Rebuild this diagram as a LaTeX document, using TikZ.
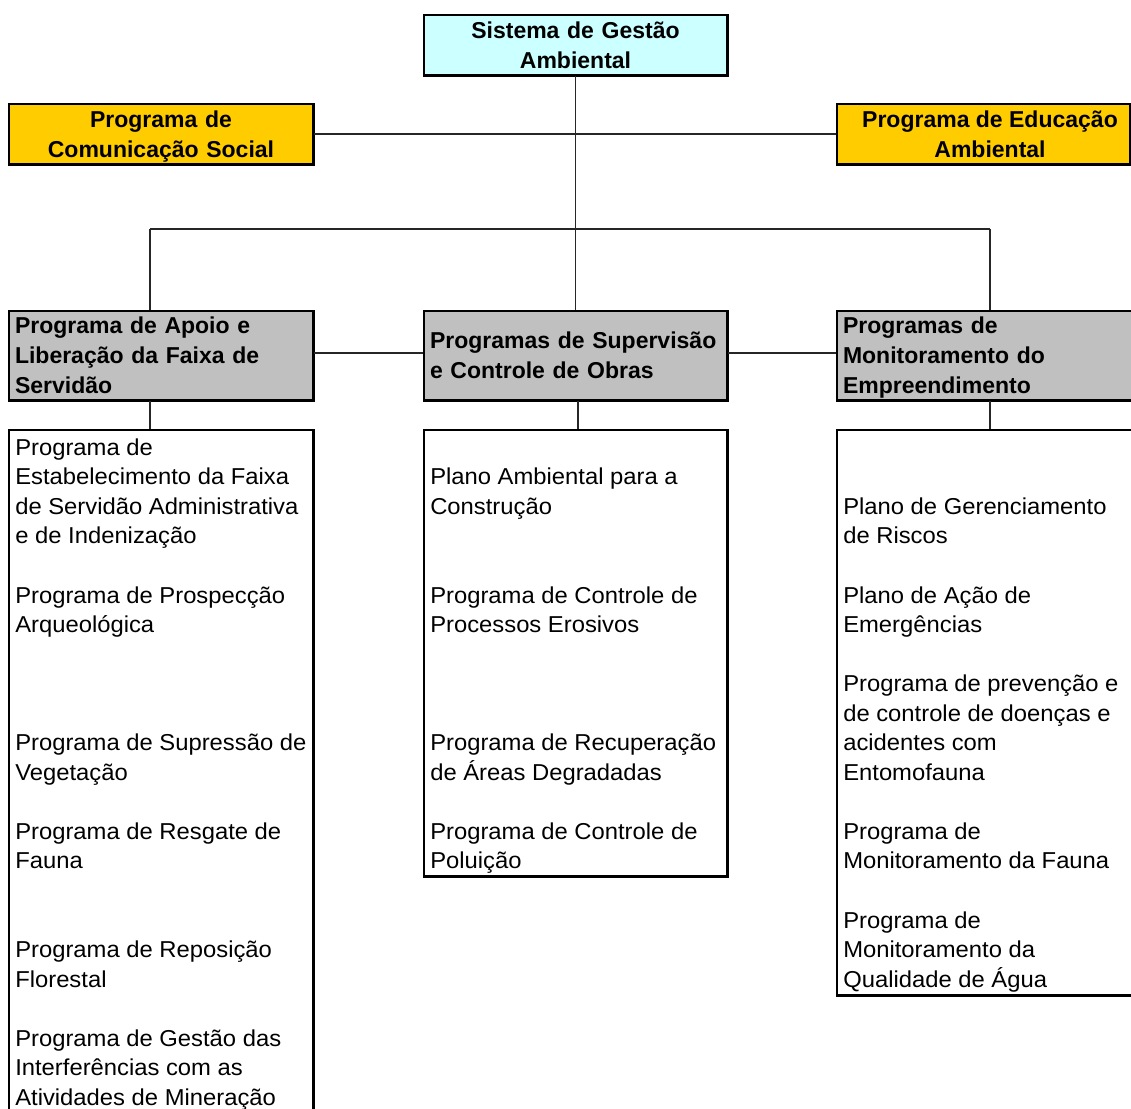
\documentclass[tikz,border=0pt]{standalone}
\usepackage{fontspec}
\setmainfont{Liberation Sans}
\newfontfamily\bodyfont{Liberation Sans}[FakeStretch=1.035]
\definecolor{cyanfill}{HTML}{CCFFFF}
\definecolor{yellowfill}{HTML}{FFCC00}
\definecolor{grayfill}{HTML}{C0C0C0}
\newcommand\hstrut{\rule[-4.1pt]{0pt}{20.6pt}}
\newcommand\bstrut{\rule{0pt}{15pt}}
\begin{document}
\begin{tikzpicture}[x=0.75pt,y=-0.75pt,
  box/.style={draw=black, line width=1pt, inner ysep=0pt, inner xsep=4.5pt},
  hdr/.style={font=\fontsize{17.25pt}{22.5pt}\selectfont\bfseries},
  cyanhdr/.style={box, hdr, fill=cyanfill, align=center, minimum height=45pt},
  yellowhdr/.style={box, hdr, fill=yellowfill, align=center, minimum height=45pt},
  grayhdr/.style={box, hdr, fill=grayfill, align=left, minimum height=66.75pt},
  whitebox/.style={box, fill=white, inner sep=0pt},
  hdrtext/.style={hdr, inner sep=0pt, align=center},
  body/.style={anchor=north west, inner sep=0pt, align=left, font=\bodyfont\fontsize{17.25pt}{22.16pt}\selectfont},
  conn/.style={draw=black!85, line width=0.8pt},
  shadowedge/.style={draw=black, line width=2pt}
]
\useasboundingbox (0,0) rectangle (1131,1109);
\clip (0,0) rectangle (1131,1109);

\coordinate (jL) at (150,229);
\coordinate (jR) at (990,229);
\coordinate (jM) at (578,400);
\coordinate (hy) at (0,353);

% header boxes
\node[cyanhdr, text width=218.25pt] (sga) at (575.5,45) {\hstrut Sistema de Gestão\\\hstrut Ambiental};
\node[yellowhdr, text width=219pt] (comBox) at (161,134) {\hstrut Programa de\\\hstrut Comunicação Social};
\node[yellowhdr, minimum width=219.75pt] (eduBox) at (983.5,134) {};
\node[hdrtext] (eduText) at (990,134) {\hstrut Programa de Educação\\\hstrut Ambiental};

\node[grayhdr, text width=219pt] (gL) at (161,355.5) {\hstrut Programa de Apoio e\\\hstrut Liberação da Faixa de\\\hstrut Servidão};
\node[grayhdr, text width=218.25pt] (gM) at (575.5,355.5) {\hstrut Programas de Supervisão\\\hstrut e Controle de Obras};
\node[grayhdr, text width=219pt] (gR) at (989,355.5) {\hstrut Programas de\\\hstrut Monitoramento do\\\hstrut Empreendimento};

% white list boxes
\node[whitebox, minimum width=228pt, minimum height=521.25pt] (wL) at (161,777.5) {};
\node[whitebox, minimum width=227.25pt, minimum height=334.5pt] (wM) at (575.5,653) {};
\node[whitebox, minimum width=228pt, minimum height=423.75pt] (wR) at (989,712.5) {};

% shadow edges
\foreach \n in {sga,comBox,eduBox,gL,gM,gR,wL,wM,wR}
  \draw[shadowedge] (\n.south west) -- (\n.south east) -- (\n.north east);

% connectors
\draw[conn] (sga.south) -- (gM.north);
\draw[conn] (comBox.east) -- (eduBox.west);
\draw[conn] (jL) -- (jR);
\draw[conn] (jL) -- (jL |- gL.north);
\draw[conn] (jR) -- (jR |- gR.north);
\draw[conn] (gL.east |- hy) -- (gM.west |- hy);
\draw[conn] (gM.east |- hy) -- (gR.west |- hy);
\draw[conn] (jL |- gL.south) -- (jL |- wL.north);
\draw[conn] (jM |- gM.south) -- (jM |- wM.north);
\draw[conn] (jR |- gR.south) -- (jR |- wR.north);

% left column text
\node[body] (l1) at (15,435) {\bstrut Programa de\\Estabelecimento da Faixa\\de Servidão Administrativa\\e de Indenização};
\node[body] (l2) at (15,582.75) {\bstrut Programa de Prospecção\\Arqueológica};
\node[body] (l3) at (15,730.5) {\bstrut Programa de Supressão de\\Vegetação};
\node[body] (l4) at (15,819.15) {\bstrut Programa de Resgate de\\Fauna};
\node[body] (l5) at (15,937.35) {\bstrut Programa de Reposição\\Florestal};
\node[body] (l6) at (15,1026) {\bstrut Programa de Gestão das\\Interferências com as\\Atividades de Mineração};

% middle column text
\node[body] (m1) at (430,464.55) {\bstrut Plano Ambiental para a\\Construção};
\node[body] (m2) at (430,582.75) {\bstrut Programa de Controle de\\Processos Erosivos};
\node[body] (m3) at (430,730.5) {\bstrut Programa de Recuperação\\de Áreas Degradadas};
\node[body] (m4) at (430,819.15) {\bstrut Programa de Controle de\\Poluição};

% right column text
\node[body] (r1) at (843,494.1) {\bstrut Plano de Gerenciamento\\de Riscos};
\node[body] (r2) at (843,582.75) {\bstrut Plano de Ação de\\Emergências};
\node[body] (r3) at (843,671.4) {\bstrut Programa de prevenção e\\de controle de doenças e\\acidentes com\\Entomofauna};
\node[body] (r4) at (843,819.15) {\bstrut Programa de\\Monitoramento da Fauna};
\node[body] (r5) at (843,907.8) {\bstrut Programa de\\Monitoramento da\\Qualidade de Água};
\end{tikzpicture}
\end{document}
